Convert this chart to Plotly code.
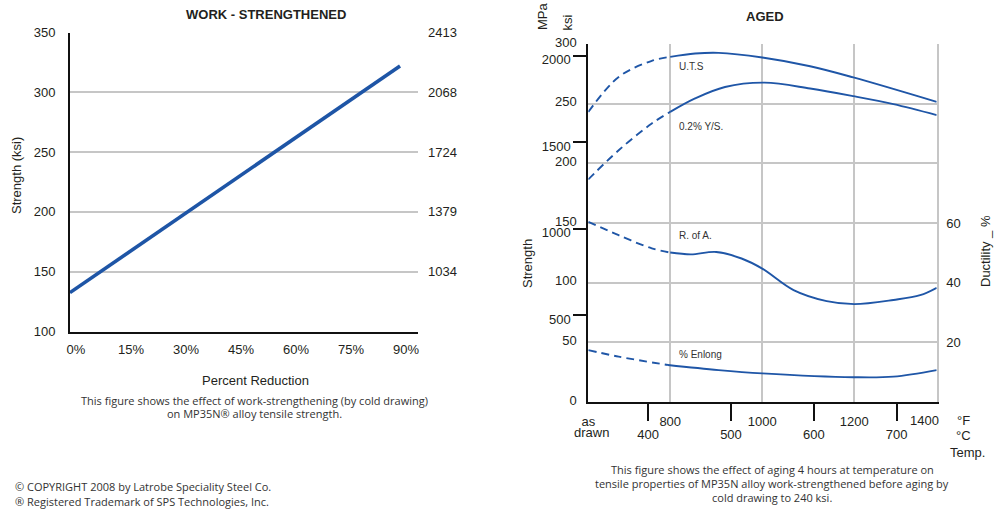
import plotly.graph_objects as go

W, H = 1000, 527

# ---------------- data: work-strengthened chart ----------------
reduction_pct = [0, 90]
strength_ksi = [132.5, 322]
left_ksi_ticks = [100, 150, 200, 250, 300, 350]
left_mpa_ticks = [689, 1034, 1379, 1724, 2068, 2413]
reduction_ticks = [0, 15, 30, 45, 60, 75, 90]
reduction_labels = ["0%", "15%", "30%", "45%", "60%", "75%", "90%"]

# ---------------- data: aged chart ----------------
AS_DRAWN = 622          # position used for the "as drawn" condition on the °F scale
uts_dash_F = [AS_DRAWN, 688, 760, 800]
uts_dash_ksi = [243, 272.4, 285.9, 289.2]
uts_F = [800, 854, 905, 1000, 1104, 1198, 1379]
uts_ksi = [289.2, 292.0, 292.6, 288.7, 281.4, 272.0, 251.5]

ys_dash_F = [AS_DRAWN, 688, 760, 800]
ys_dash_ksi = [186.5, 211, 233.4, 243.1]
ys_F = [800, 854, 919, 1005, 1104, 1198, 1285, 1379]
ys_ksi = [243.1, 254.4, 264.0, 267.6, 262.7, 256.3, 249.6, 240.4]

ra_dash_F = [AS_DRAWN, 688, 760, 800]
ra_dash_pct = [60.4, 55.9, 51.5, 50.1]
ra_F = [800, 845, 900, 955, 1000, 1068, 1140, 1200, 1285, 1343, 1379]
ra_pct = [50.1, 49.5, 50.3, 48.1, 44.7, 37.5, 33.8, 32.8, 34.2, 35.8, 38.3]

el_dash_F = [AS_DRAWN, 688, 795]
el_dash_pct = [17.4, 15.2, 12.4]
el_F = [795, 905, 1000, 1198, 1285, 1379]
el_pct = [12.4, 10.7, 9.6, 8.3, 8.5, 10.7]

aged_ksi_ticks = [0, 50, 100, 150, 200, 250, 300]
aged_mpa_ticks = [500, 1000, 1500, 2000]
ductility_ticks = [20, 40, 60]
temp_F_ticks = [AS_DRAWN, 800, 1000, 1200]
temp_F_labels = ["as", "800", "1000", "1200"]
temp_C_ticks = [400, 500, 600, 700]

KSI_TO_MPA = 6.895
F_MIN, F_MAX = 622, 1379

BLUE = "#1f56a7"
GRID = "#c6c6c6"
TXT = "#231f20"
TICKFONT = dict(family="Liberation Sans, Arial, sans-serif", size=13, color=TXT)
CAPFONT = dict(family="Open Sans, sans-serif", size=11, color="#333333")


def px(x):
    return x / W


def py(y):
    return 1 - y / H


fig = go.Figure()

# left chart
fig.add_trace(go.Scatter(x=reduction_pct, y=strength_ksi, mode="lines",
                         line=dict(color="#1e55a6", width=3.6),
                         xaxis="x", yaxis="y", showlegend=False, hoverinfo="skip"))
# dummy trace so the MPa axis is drawn
fig.add_trace(go.Scatter(x=[None], y=[None], xaxis="x", yaxis="y2", showlegend=False))

# aged chart
dash = "8px,5px"
for xs, ys, ax, d in [
    (uts_dash_F, uts_dash_ksi, "y3", dash), (uts_F, uts_ksi, "y3", None),
    (ys_dash_F, ys_dash_ksi, "y3", dash), (ys_F, ys_ksi, "y3", None),
    (ra_dash_F, ra_dash_pct, "y5", dash), (ra_F, ra_pct, "y5", None),
    (el_dash_F, el_dash_pct, "y5", dash), (el_F, el_pct, "y5", None),
]:
    line = dict(color=BLUE, width=1.9, shape="spline", smoothing=1.0)
    if d:
        line["dash"] = d
    fig.add_trace(go.Scatter(x=xs, y=ys, mode="lines", line=line, xaxis="x2", yaxis=ax,
                             showlegend=False, hoverinfo="skip", cliponaxis=True))
fig.add_trace(go.Scatter(x=[None], y=[None], xaxis="x3", yaxis="y3", showlegend=False))
fig.add_trace(go.Scatter(x=[None], y=[None], xaxis="x2", yaxis="y4", showlegend=False))

left_xdom = [px(70), px(418)]
left_ydom = [py(331.5), py(32.5)]
right_xdom = [px(588.3), px(936.7)]
right_ydom = [py(402), py(44)]

common = dict(automargin=False, zeroline=False)

fig.update_layout(
    template="none",
    width=W, height=H, margin=dict(l=0, r=0, t=0, b=0, pad=0),
    paper_bgcolor="white", plot_bgcolor="white",
    font=TICKFONT, showlegend=False,
    xaxis=dict(domain=left_xdom, anchor="y", range=[0, 94.9],
               tickmode="array", tickvals=reduction_ticks, ticktext=reduction_labels,
               showgrid=False, showline=True, linecolor="#111", linewidth=2,
               ticks="", ticklabelstandoff=5, ticklabelshift=6, tickfont=TICKFONT, **common),
    yaxis=dict(domain=left_ydom, anchor="x", range=[100, 350],
               tickmode="array", tickvals=left_ksi_ticks,
               showgrid=True, gridcolor=GRID, gridwidth=1.5,
               showline=True, linecolor="#111", linewidth=2, ticks="",
               ticklabelstandoff=10, tickfont=TICKFONT, **common),
    yaxis2=dict(overlaying="y", side="right", anchor="x",
                range=[100 * KSI_TO_MPA, 350 * KSI_TO_MPA],
                tickmode="array", tickvals=left_mpa_ticks,
                showgrid=False, showline=False, ticks="",
                ticklabelstandoff=9, tickfont=TICKFONT, **common),
    xaxis2=dict(domain=right_xdom, anchor="y3", range=[F_MIN, F_MAX],
                tickmode="array", tickvals=temp_F_ticks, ticktext=temp_F_labels,
                showgrid=True, gridcolor=GRID, gridwidth=2,
                showline=True, linecolor="#111", linewidth=2, ticks="",
                ticklabelstandoff=6, tickfont=TICKFONT, **common),
    xaxis3=dict(overlaying="x2", side="bottom", anchor="y3",
                range=[(F_MIN - 32) / 1.8, (F_MAX - 32) / 1.8],
                tickmode="array", tickvals=temp_C_ticks,
                showgrid=False, showline=False,
                ticks="outside", ticklen=18, tickwidth=2, tickcolor="#111",
                ticklabelstandoff=2, tickfont=TICKFONT, **common),
    yaxis3=dict(domain=right_ydom, anchor="x2", range=[0, 300],
                tickmode="array", tickvals=aged_ksi_ticks,
                showgrid=True, gridcolor=GRID, gridwidth=2,
                showline=True, linecolor="#111", linewidth=2, ticks="",
                ticklabelstandoff=7, ticklabelshift=-2, tickfont=TICKFONT, **common),
    yaxis4=dict(overlaying="y3", side="left", anchor="x2",
                range=[0, 300 * KSI_TO_MPA],
                tickmode="array", tickvals=aged_mpa_ticks,
                showgrid=False, showline=False,
                ticks="outside", ticklen=14, tickwidth=2, tickcolor="#111",
                ticklabelstandoff=0, ticklabelshift=4, tickfont=TICKFONT, **common),
    yaxis5=dict(overlaying="y3", side="right", anchor="x2", range=[0, 120],
                tickmode="array", tickvals=ductility_ticks,
                showgrid=False, showline=True, linecolor=GRID, linewidth=2,
                ticks="", ticklabelstandoff=5, tickfont=TICKFONT, **common),
)

ann = []


def add(text, x, y, size=13, bold=False, angle=0, xanchor="center", yanchor="middle",
        font=None, xref="paper", yref="paper", xshift=0):
    f = dict(font or TICKFONT)
    f["size"] = size
    if bold:
        f["weight"] = "bold"
    ann.append(dict(text=text, x=x, y=y, xref=xref, yref=yref, showarrow=False,
                    textangle=angle, xanchor=xanchor, yanchor=yanchor, font=f, xshift=xshift))


# left chart texts
add("WORK - STRENGTHENED", px(266), py(15), bold=True)
add("Strength (ksi)", px(16), py(176), angle=-90)
add("Percent Reduction", px(255), py(380))
add("This figure shows the effect of work-strengthening (by cold drawing)", px(254), py(400), size=11, font=CAPFONT)
add("on MP35N® alloy tensile strength.", px(254), py(413.3), size=11, font=CAPFONT)

# aged chart texts
add("AGED", px(765), py(16), bold=True)
add("MPa", px(542), py(16), angle=-90)
add("ksi", px(567), py(22.5), angle=-90)
add("Strength", px(527), py(264), angle=-90)
add("Ductility _ %", px(985), py(251), angle=-90)
add("drawn", px(591), py(432))
add("°F", px(963), py(420))
add("°C", px(963), py(435))
add("Temp.", px(967), py(452))
add("1400", 1.0, py(420), xref="x2 domain", xanchor="right", xshift=4)

lab_font = dict(family="Liberation Sans, Arial, sans-serif", size=10, color="#333333")
add("U.T.S", 815, 281.4, size=10, font=lab_font, xanchor="left", xref="x2", yref="y3")
add("0.2% Y/S.", 815, 231.2, size=10, font=lab_font, xanchor="left", xref="x2", yref="y3")
add("R. of A.", 815, 139.9, size=10, font=lab_font, xanchor="left", xref="x2", yref="y3")
add("% Enlong", 815, 40.2, size=10, font=lab_font, xanchor="left", xref="x2", yref="y3")

add("This figure shows the effect of aging 4 hours at temperature on", px(772), py(469.3), size=11, font=CAPFONT)
add("tensile properties of MP35N alloy work-strengthened before aging by", px(772), py(483.3), size=11, font=CAPFONT)
add("cold drawing to 240 ksi.", px(772), py(497.3), size=11, font=CAPFONT)

add("© COPYRIGHT 2008 by Latrobe Speciality Steel Co.", px(13), py(486.7), size=11, font=CAPFONT, xanchor="left")
add("® Registered Trademark of SPS Technologies, Inc.", px(13), py(501.7), size=11, font=CAPFONT, xanchor="left")

fig.update_layout(annotations=ann)
fig.write_html("out.html", config={"displayModeBar": False},
               post_script="document.body.style.margin='0';")
